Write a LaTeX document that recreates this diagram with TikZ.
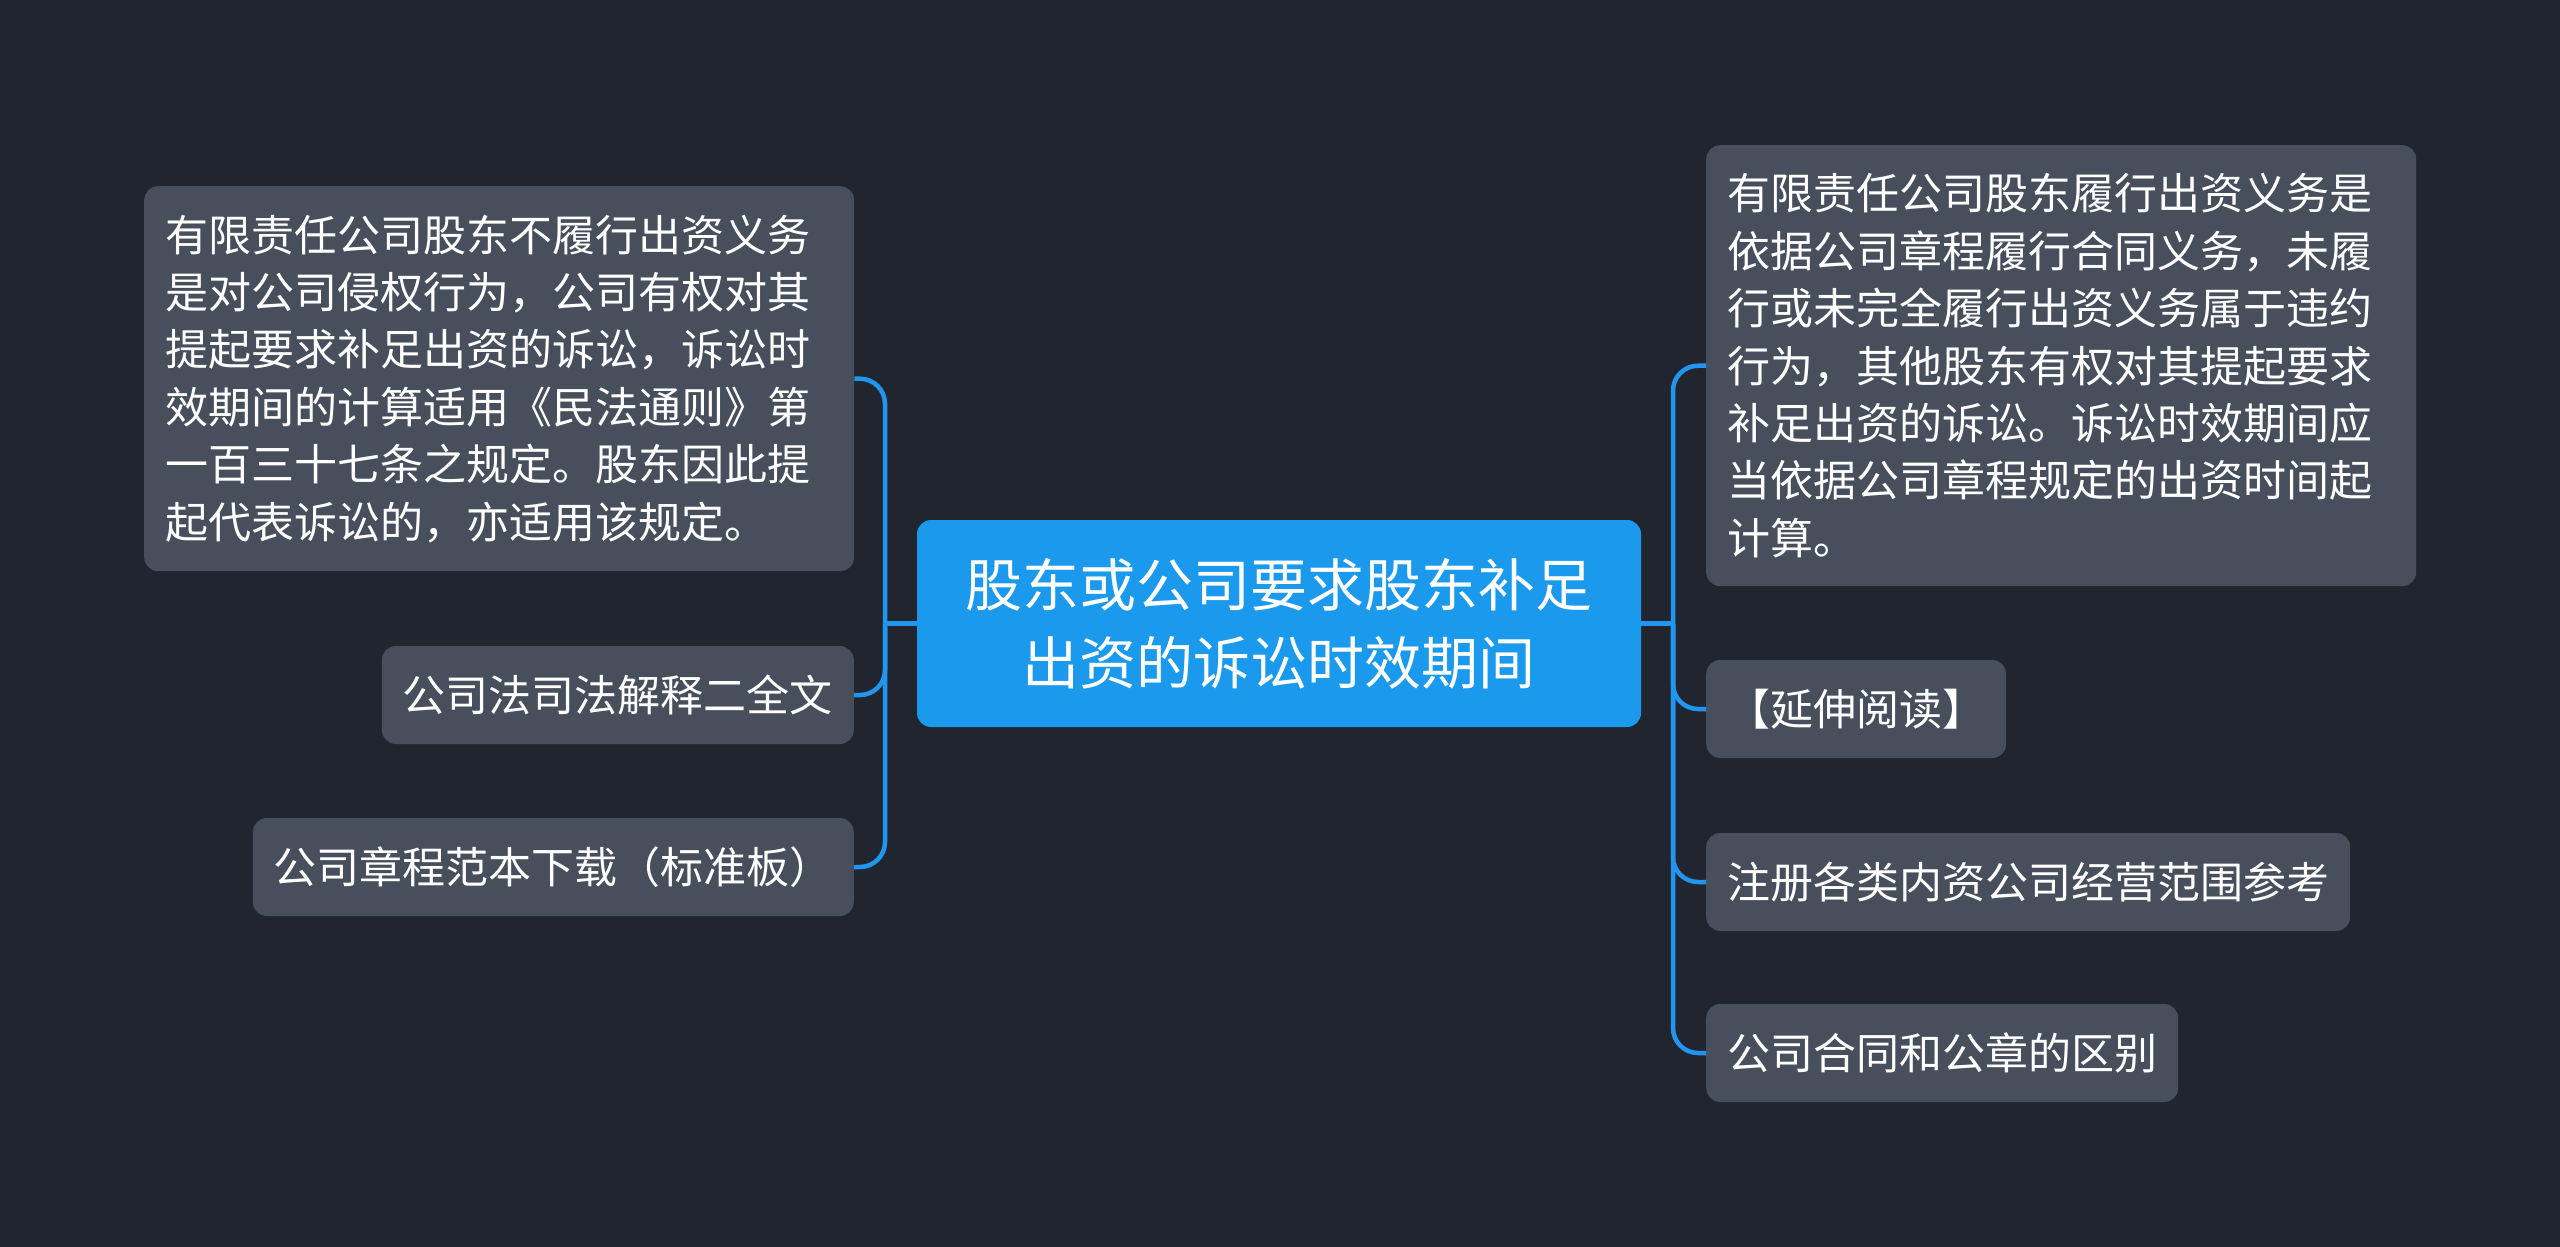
\documentclass[tikz,border=0pt]{standalone}
\usepackage{fontspec}
\newfontfamily\cjk{Noto Sans CJK SC}
\definecolor{bgc}{RGB}{33,37,48}
\definecolor{boxc}{RGB}{71,78,92}
\definecolor{mainc}{RGB}{27,153,236}
\definecolor{linec}{RGB}{33,150,240}
\tikzset{
  leaf/.style={fill=boxc, rounded corners=14pt, text=white, inner xsep=21pt, inner ysep=0pt,
    minimum height=98pt, font={\cjk\fontsize{43}{57.4}\selectfont}},
  bigleaf/.style={leaf, align=left, text width=668pt},
  root/.style={fill=mainc, rounded corners=14pt, text=white, align=center, inner sep=0pt,
    minimum width=724pt, minimum height=207pt, font={\cjk\fontsize{57}{78}\selectfont}},
  conn/.style={draw=linec, line width=4.5pt, rounded corners=25pt}
}
\begin{document}
\begin{tikzpicture}[x=1pt,y=-1pt]
\fill[bgc] (0,0) rectangle (2560,1247);
\useasboundingbox (0,0) rectangle (2560,1247);

\node[root] (c) at (1279,623.5) {股东或公司要求股东补足\\出资的诉讼时效期间};

\node[bigleaf, anchor=north west, minimum width=710pt, minimum height=385pt] (L1) at (144,186)
  {有限责任公司股东不履行出资义务\\是对公司侵权行为，公司有权对其\\提起要求补足出资的诉讼，诉讼时\\效期间的计算适用《民法通则》第\\一百三十七条之规定。股东因此提\\起代表诉讼的，亦适用该规定。};
\node[leaf, anchor=east] (L2) at (854,695) {公司法司法解释二全文};
\node[leaf, anchor=east] (L3) at (854,867) {公司章程范本下载（标准板）};

\node[bigleaf, anchor=north west, minimum width=709pt, minimum height=441pt] (R1) at (1706,145)
  {有限责任公司股东履行出资义务是\\依据公司章程履行合同义务，未履\\行或未完全履行出资义务属于违约\\行为，其他股东有权对其提起要求\\补足出资的诉讼。诉讼时效期间应\\当依据公司章程规定的出资时间起\\计算。};
\node[leaf, anchor=west] (R2) at (1706,709) {【延伸阅读】};
\node[leaf, anchor=west] (R3) at (1706,882) {注册各类内资公司经营范围参考};
\node[leaf, anchor=west] (R4) at (1706,1053) {公司合同和公章的区别};

\coordinate (lj) at (885,623.5);
\coordinate (rj) at (1673,623.5);

\draw[conn] (c.west) -- (lj);
\draw[conn] (lj) |- (L1.east);
\draw[conn] (lj) |- (L2.east);
\draw[conn] (lj) |- (L3.east);

\draw[conn] (c.east) -- (rj);
\draw[conn] (rj) |- (R1.west);
\draw[conn] (rj) |- (R2.west);
\draw[conn] (rj) |- (R3.west);
\draw[conn] (rj) |- (R4.west);
\end{tikzpicture}
\end{document}
